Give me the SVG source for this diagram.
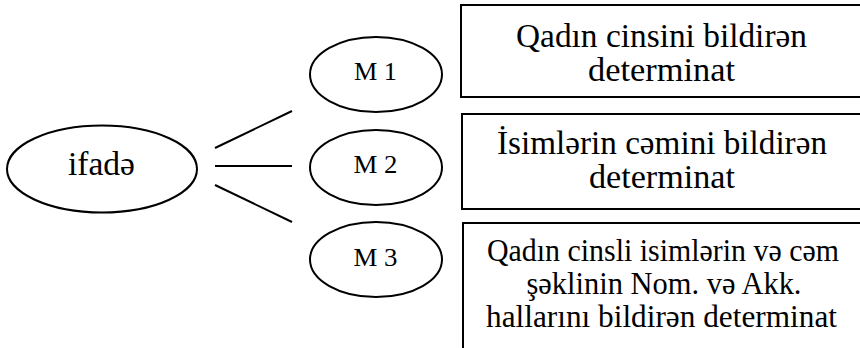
<svg xmlns="http://www.w3.org/2000/svg" width="860" height="348" viewBox="0 0 860 348">
<style>
.sh{fill:#fff;stroke:#000;stroke-width:2}
.ln{stroke:#000;stroke-width:2;fill:none}
text{font-family:"Liberation Serif","Times New Roman",serif;fill:#000;text-anchor:middle}
.big{font-size:33px}
.mid{font-size:31px}
.sm{font-size:25.5px}
</style>
<rect width="860" height="348" fill="#fff"/>
<g id="connectors">
<line class="ln" x1="215" y1="148" x2="292" y2="111"/>
<line class="ln" x1="215" y1="166" x2="292" y2="166"/>
<line class="ln" x1="215" y1="185" x2="292" y2="222"/>
</g>
<g id="ifade">
<ellipse class="sh" cx="102" cy="169" rx="95" ry="43.5"/>
<text class="big" x="101.5" y="175" textLength="67" lengthAdjust="spacingAndGlyphs">ifadə</text>
</g>
<g id="m1">
<ellipse class="sh" cx="376" cy="74.5" rx="66" ry="37.5"/>
<text class="sm" x="375.5" y="79.5" textLength="43" lengthAdjust="spacingAndGlyphs">M 1</text>
</g>
<g id="m2">
<ellipse class="sh" cx="376" cy="167.5" rx="66" ry="37.5"/>
<text class="sm" x="375.5" y="173" textLength="44" lengthAdjust="spacingAndGlyphs">M 2</text>
</g>
<g id="m3">
<ellipse class="sh" cx="376" cy="259.5" rx="66" ry="37.5"/>
<text class="sm" x="375.5" y="265.5" textLength="44" lengthAdjust="spacingAndGlyphs">M 3</text>
</g>
<g id="box1">
<rect class="sh" x="461" y="5" width="410" height="92"/>
<text class="big" x="661.5" y="47" textLength="291" lengthAdjust="spacingAndGlyphs">Qadın cinsini bildirən</text>
<text class="big" x="661.5" y="81" textLength="147" lengthAdjust="spacingAndGlyphs">determinat</text>
</g>
<g id="box2">
<rect class="sh" x="462" y="114" width="410" height="95"/>
<text class="big" x="662" y="153.5" textLength="330" lengthAdjust="spacingAndGlyphs">İsimlərin cəmini bildirən</text>
<text class="big" x="662" y="188" textLength="146" lengthAdjust="spacingAndGlyphs">determinat</text>
</g>
<g id="box3">
<rect class="sh" x="463" y="223" width="410" height="140"/>
<text class="mid" x="663" y="261" textLength="352" lengthAdjust="spacingAndGlyphs">Qadın cinsli isimlərin və cəm</text>
<text class="mid" x="664" y="294" textLength="275" lengthAdjust="spacingAndGlyphs">şəklinin Nom. və Akk.</text>
<text class="mid" x="661.5" y="327" textLength="351" lengthAdjust="spacingAndGlyphs">hallarını bildirən determinat</text>
</g>
</svg>
